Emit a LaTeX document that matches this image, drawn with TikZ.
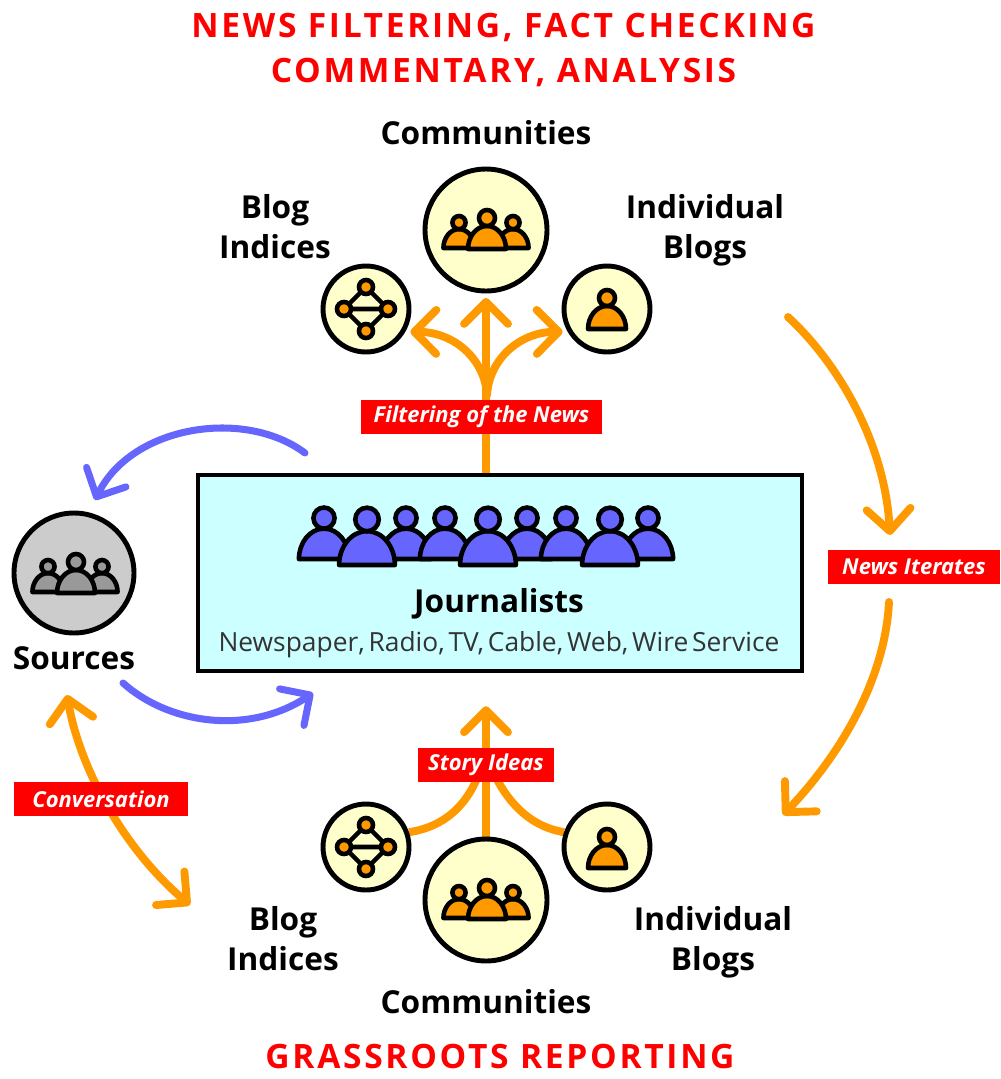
\documentclass[tikz,border=0pt]{standalone}
\usepackage{fontspec}
\setmainfont{Open Sans}
\newfontfamily\titlefont[LetterSpace=8.0]{Open Sans}
\usetikzlibrary{arrows.meta,backgrounds}

\definecolor{hubyellow}{HTML}{FFFFCC}
\definecolor{iconorange}{HTML}{FF9900}
\definecolor{iconblue}{HTML}{6666FF}
\definecolor{icongray}{HTML}{999999}
\definecolor{boxcyan}{HTML}{CCFFFF}

\tikzset{
	hub/.style={circle,draw,line width=2.8pt,fill=hubyellow,inner sep=0pt},
	bighub/.style={hub,minimum size=2.44cm},
	smallhub/.style={hub,minimum size=1.72cm},
	headline/.style={text=red,font=\titlefont\bfseries\fontsize{19.1}{25}\selectfont,anchor=base},
	bigtext/.style={font=\bfseries\fontsize{18}{22.7}\selectfont,align=center,inner sep=0pt},
	tag/.style={fill=red,text=white,font=\bfseries\itshape\fontsize{12.5}{14}\selectfont,minimum height=0.68cm,inner sep=0pt},
	orangearrow/.style={iconorange,line width=4.5pt,line cap=round,-{Straight Barb[round,length=12.5pt,width=25pt,line width=4.5pt]}},
	orangeline/.style={iconorange,line width=4.5pt},
	bluearrow/.style={iconblue,line width=4pt,line cap=round,-{Straight Barb[round,length=12.5pt,width=25pt,line width=4pt]}},
	person/.pic={
		\draw[fill=#1,line join=round] (-19,0) .. controls (-19,-12) and (-11,-23) .. (0,-23) .. controls (11,-23) and (19,-12) .. (19,0) -- cycle;
		\draw[fill=#1] (0,-31) circle (8);
	},
	crowd/.pic={
		\pic[scale=0.82] at (-28,-1) {person=#1};
		\pic[scale=0.82] at (26,-1) {person=#1};
		\pic at (0,0) {person=#1};
	},
	network/.pic={
		\draw (0,-22) -- (-22,0) -- (0,22) -- (22,0) -- cycle (-22,0) -- (22,0);
		\foreach \a/\b in {0/-22,-22/0,22/0,0/22}
		\draw[fill=iconorange] (\a,\b) circle (7);
	}
}

\begin{document}
\begin{tikzpicture}[x=0.02cm,y=-0.02cm,line width=2.6pt]
	\useasboundingbox (0,0) rectangle (1001,1079);

	% headings
	\node [headline] (filterhead) at (503.5,37) {NEWS FILTERING, FACT CHECKING};
	\node [headline] (commenthead) at (503.5,82) {COMMENTARY, ANALYSIS};
	\node [headline] (grasshead) at (500,1068) {GRASSROOTS REPORTING};

	% upper group
	\node [bighub] (commtop) at (486,230) {};
	\node [smallhub] (blogtop) at (366,309) {};
	\node [smallhub] (indtop) at (607,309) {};
	\pic at (487,249) {crowd=iconorange};
	\pic at (366,309) {network};
	\pic at (607,329) {person=iconorange};
	\node [bigtext] (commtoplabel) at (486,133) {Communities};
	\node [bigtext] (blogtoplabel) at (275,227) {Blog\\Indices};
	\node [bigtext] (indtoplabel) at (705,230) {Individual\\Blogs};

	% lower group
	\node [bighub] (commbot) at (486,900) {};
	\node [smallhub] (blogbot) at (366,847) {};
	\node [smallhub] (indbot) at (607,847) {};
	\pic at (487,919) {crowd=iconorange};
	\pic at (366,847) {network};
	\pic at (607,868) {person=iconorange};
	\node [bigtext] (commbotlabel) at (486,1002) {Communities};
	\node [bigtext] (blogbotlabel) at (283,939) {Blog\\Indices};
	\node [bigtext] (indbotlabel) at (713,942) {Individual\\Blogs};

	% sources
	\node [hub,fill=black!20,minimum size=2.4cm] (sources) at (74,573) {};
	\pic at (76,593) {crowd=icongray};
	\node [bigtext] (sourceslabel) at (74,658) {Sources};

	% journalists
	\node [draw,fill=boxcyan,minimum width=12.08cm,minimum height=3.92cm] (journalists) at (500,573) {};
	\foreach \x in {324,648,406,445,527,566}
	\pic[scale=1.32] at (\x,559) {person=iconblue};
	\foreach \x in {367,488,610}
	\pic[scale=1.47] at (\x,565) {person=iconblue};
	\node [bigtext] (journalistslabel) at (499,604) {Journalists};
	\node [font=\fontsize{15}{18}\selectfont,text=black!80,inner sep=0pt] (medialabel) at (499,645) {\spaceskip=2.2pt Newspaper, Radio, TV, Cable, Web, Wire Service};

	% tags
	\node [tag,minimum width=4.82cm] (filtertag) at (481.5,417) {Filtering of the News};
	\node [tag,minimum width=3.44cm] (iteratetag) at (914,567) {News Iterates};
	\node [tag,minimum width=2.72cm] (storytag) at (486,765) {Story Ideas};
	\node [tag,minimum width=3.48cm] (convtag) at (101,799) {Conversation};

	% free ends
	\coordinate (filtersplit) at (487,395);
	\coordinate (iteratestart) at (788,317);
	\coordinate (iterateend) at (890,535);
	\coordinate (returnstart) at (889,602);
	\coordinate (returnend) at (783,815);
	\coordinate (tosources) at (95,500);
	\coordinate (fromjournalists) at (305,453);
	\coordinate (fromsources) at (123,683);
	\coordinate (tojournalists) at (313,693);
	\coordinate (convtop) at (67,695);
	\coordinate (convbot) at (190,905);

	\begin{scope}[on background layer]
		\draw [orangearrow,shorten >=0.09cm] (journalists.north -| commtop.south) -- (commtop.south);
		\draw [orangearrow,shorten >=0.1cm] (filtersplit) .. controls (485,360) and (455,332) .. (blogtop.-30);
		\draw [orangearrow,shorten >=0.1cm] (filtersplit) .. controls (489,360) and (519,332) .. (indtop.210);
		\draw [orangearrow,shorten >=0.66cm] (commbot.north) -- (journalists.south -| commbot.north);
		\draw [orangeline] (blogbot.19) .. controls (449,826) and (471,800) .. ([xshift=-0.08cm]storytag.center);
		\draw [orangeline] (indbot.161) .. controls (528,826) and (505,800) .. ([xshift=0.08cm]storytag.center);
		\draw [orangearrow] (iteratestart) .. controls (840,365) and (885,445) .. (iterateend);
		\draw [orangearrow] (returnstart) .. controls (885,680) and (840,755) .. (returnend);
		\draw [orangearrow,{Straight Barb[round,length=12.5pt,width=25pt,line width=4.5pt]}-{Straight Barb[round,length=12.5pt,width=25pt,line width=4.5pt]}] (convtop) .. controls (80,770) and (125,850) .. (convbot);
		\draw [bluearrow] (fromjournalists) .. controls (245,408) and (132,425) .. (tosources);
		\draw [bluearrow] (fromsources) .. controls (170,725) and (250,735) .. (tojournalists);
	\end{scope}
\end{tikzpicture}
\end{document}
